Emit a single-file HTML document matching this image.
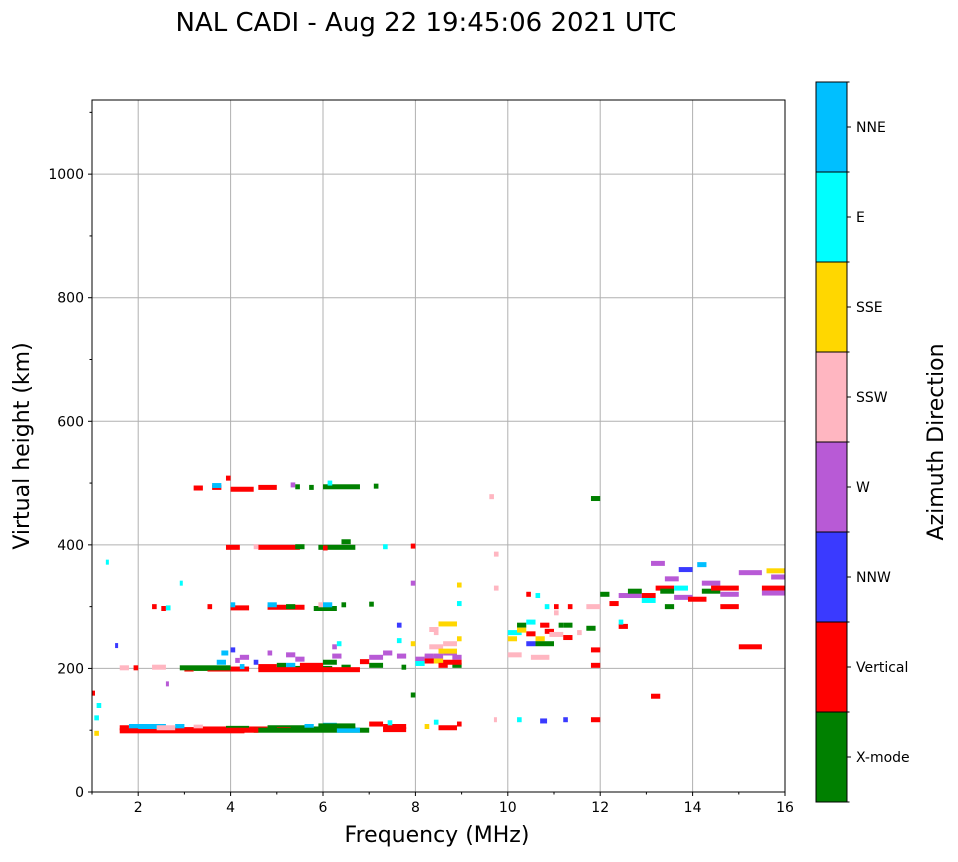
<!DOCTYPE html>
<html><head><meta charset="utf-8"><style>
body{margin:0;background:#fff;font-family:"Liberation Sans","DejaVu Sans",sans-serif;}
svg text{font-family:"DejaVu Sans","Liberation Sans",sans-serif;}
</style></head><body>
<svg id="c" width="958" height="857" xmlns="http://www.w3.org/2000/svg">
<text x="426" y="31" font-size="26" text-anchor="middle">NAL CADI - Aug 22 19:45:06 2021 UTC</text>
<g id="grid"></g><g id="marks"></g><g id="axes"></g><g id="cbar"></g>
<text x="437" y="842" font-size="22" text-anchor="middle">Frequency (MHz)</text>
<text transform="translate(29,446) rotate(-90)" font-size="22" text-anchor="middle">Virtual height (km)</text>
<text transform="translate(943,442) rotate(-90)" font-size="22" text-anchor="middle">Azimuth Direction</text>
</svg>
<script>
const dirLabels=["X-mode","Vertical","NNW","W","SSW","SSE","E","NNE"];
const dirColors=["#008000","#ff0000","#3a3aff","#b85ad6","#ffb6c1","#ffd700","#00ffff","#00bfff"];
const xTicks=[2,4,6,8,10,12,14,16];
const yTicks=[0,200,400,600,800,1000];
// echoes: start freq, end freq, height, direction index
const fStart=[1.6,1.8,2.2,2.6,2.8,3.2,3.4,3.9,4.4,4.8,5.0,5.6,5.8,6.0,6.3,7.0,7.3,7.4,8.2,8.4,8.5,8.9,9.7,10.2,10.7,11.2,11.8,1.05,1.05,1.0,1.1,
1.6,1.9,2.3,3.0,3.2,3.5,3.8,4.0,4.1,4.5,4.2,4.6,5.0,4.8,5.2,5.4,5.4,5.8,6.2,6.2,6.3,6.4,6.8,7.0,7.0,7.3,7.6,7.6,7.6,7.7,7.9,
8.0,8.0,8.2,8.2,8.2,8.4,8.4,8.5,8.3,8.3,8.5,8.6,8.8,8.8,8.9,8.9,8.9,8.4,
10.0,10.0,10.2,10.4,10.4,10.2,10.0,10.5,10.4,10.6,10.6,10.7,10.6,10.4,10.8,11.0,10.9,10.8,11.1,11.0,11.2,11.2,11.3,11.5,11.7,11.7,
12.0,12.2,12.4,12.4,12.4,12.6,12.9,12.9,13.2,13.3,13.4,13.6,13.6,13.1,13.9,13.7,14.1,14.2,14.2,14.4,14.6,15.0,14.6,15.5,15.5,15.6,15.7,13.4,15.0,13.1,11.8,11.8,11.8,9.6,9.7,9.7,7.9,7.9,7.9,
2.3,2.5,2.6,3.5,4.0,4.0,4.8,4.8,5.2,5.8,6.0,6.4,7.0,5.9,
3.9,4.6,5.4,5.9,6.4,6.0,4.5,7.3,
3.2,3.6,3.6,4.0,4.6,5.3,5.4,5.7,6.0,3.9,6.1,7.1,
1.3,2.6,2.9,1.5,
1.6,2.0,2.4,4.5,3.8,6.3,5.9,7.3,
2.9,4.6,5.5,3.7,5.2,4.2,6.0,8.6,8.6,8.5];
const fEnd=[1.8,2.2,2.6,3.3,3.0,3.4,3.9,4.4,4.8,5.6,5.3,5.8,6.7,6.3,6.5,7.3,7.8,7.5,8.3,8.5,8.9,9.0,9.75,10.3,10.85,11.3,12.0,1.15,1.15,1.05,1.2,
1.8,2.0,2.6,3.2,3.5,4.4,3.95,4.1,4.2,4.6,4.3,5.0,5.2,4.9,5.4,5.6,5.6,6.2,6.4,6.3,6.4,6.6,7.0,7.3,7.3,7.5,7.7,7.8,7.7,7.8,8.0,
8.2,8.2,8.4,8.4,8.4,8.6,8.6,8.7,8.6,8.5,8.9,8.9,9.0,9.0,9.0,9.0,9.0,8.5,
10.3,10.2,10.4,10.6,10.6,10.4,10.3,10.9,10.6,10.8,11.0,10.9,10.7,10.5,11.0,11.1,11.2,10.9,11.2,11.1,11.4,11.4,11.4,11.6,11.9,12.0,
12.2,12.4,12.6,12.5,12.9,12.9,13.2,13.2,13.6,13.6,13.7,13.9,14.0,13.4,14.3,14.0,14.3,14.6,14.6,15.0,15.0,15.5,15.0,16.0,16.0,16.0,16.0,13.6,15.5,13.3,12.0,12.0,12.0,9.7,9.8,9.8,8.0,8.0,8.0,
2.4,2.6,2.7,3.6,4.4,4.1,5.6,5.0,5.4,6.3,6.2,6.5,7.1,6.0,
4.2,5.5,5.6,6.7,6.6,6.1,4.6,7.4,
3.4,3.8,3.8,4.5,5.0,5.4,5.5,5.8,6.8,4.0,6.2,7.2,
1.35,2.65,2.95,1.55,
4.3,2.6,2.8,7.0,4.6,6.8,6.7,7.8,
4.0,6.8,6.0,3.9,5.4,4.4,6.3,9.0,8.9,8.9];
const heights=[104,106,102,101,106,105,102,103,102,104,101,106,102,108,104,110,106,112,106,113,104,110,117,117,115,117,117,120,95,160,140,
201,201,202,199,200,199,225,230,213,210,203,203,205,225,205,215,200,200,220,235,240,202,211,218,205,225,270,220,245,202,240,
215,208,218,220,212,220,212,205,235,263,272,240,218,205,248,335,305,258,
258,248,270,256,275,262,222,218,240,248,240,270,318,320,260,300,255,300,270,290,250,270,300,258,265,300,
320,305,268,275,318,325,318,310,330,325,345,330,315,370,312,360,368,325,338,330,320,355,300,330,322,358,348,300,235,155,205,230,475,478,385,330,398,157,338,
300,297,298,300,298,303,299,303,300,297,303,303,304,303,
396,396,397,396,405,395,397,397,
492,493,496,490,493,497,494,493,494,508,500,495,
372,175,338,237,
99,106,104,100,100,100,107,101,
201,198,205,210,222,218,210,210,225,228];
const dirs=[1,7,1,1,7,4,1,0,1,0,1,7,0,7,1,1,1,6,5,6,1,1,4,6,2,2,1,6,5,1,6,
4,1,4,1,0,1,7,2,3,2,7,1,0,3,7,3,0,0,3,3,6,0,1,3,0,3,2,3,6,0,5,
3,6,5,3,1,3,5,1,4,4,5,4,3,0,5,5,6,4,
6,5,0,1,6,5,4,4,2,5,0,1,6,1,1,1,4,6,0,4,1,0,1,4,0,4,
0,1,1,6,3,0,1,6,1,0,3,6,3,3,1,2,7,0,3,1,3,3,1,1,3,5,3,0,1,1,1,1,0,4,4,4,1,0,3,
1,1,6,1,1,7,1,7,0,0,7,0,0,4,
1,1,0,0,0,1,4,6,
1,1,7,1,1,3,0,0,0,1,6,0,
6,3,6,2,
1,7,4,0,1,7,0,1,
0,1,1,7,3,3,0,1,3,5];

const NS="http://www.w3.org/2000/svg";
const L=92,R=785,T=100,B=792,F0=1,F1=16,H1=1120;
const xs=f=>L+(f-F0)/(F1-F0)*(R-L);
const ys=h=>B-h/H1*(B-T);
function mk(tag,attrs,parent){const e=document.createElementNS(NS,tag);for(const k in attrs)e.setAttribute(k,attrs[k]);parent.appendChild(e);return e;}
const grid=document.getElementById('grid'),marks=document.getElementById('marks'),axes=document.getElementById('axes'),cbar=document.getElementById('cbar');
xTicks.forEach(t=>{const e=mk('line',{x1:xs(t),x2:xs(t),y1:T,y2:B,stroke:'#b0b0b0','stroke-width':1},grid);

});
yTicks.forEach(t=>{const e=mk('line',{x1:L,x2:R,y1:ys(t),y2:ys(t),stroke:'#b0b0b0','stroke-width':1},grid);

});
for(let i=0;i<fStart.length;i++){
 const x0=xs(fStart[i]),x1=xs(fEnd[i]);
 const r=mk('rect',{x:x0,y:ys(heights[i])-2.5,width:Math.max(3,x1-x0),height:5,fill:dirColors[dirs[i]]},marks);
 
 
}
const fr=mk('rect',{x:L,y:T,width:R-L,height:B-T,fill:'none',stroke:'#000','stroke-width':1},axes);


for(let f=1;f<=16;f++){mk('line',{x1:xs(f),x2:xs(f),y1:B,y2:B+(f%2?2.5:4),stroke:'#000'},axes);}
for(let h=0;h<=1100;h+=100){mk('line',{x1:L,x2:L-(h%200?2.5:4),y1:ys(h),y2:ys(h),stroke:'#000'},axes);}
xTicks.forEach(t=>{const e=mk('text',{x:xs(t),y:B+20,'font-size':14,'text-anchor':'middle'},axes);e.textContent=t;

});
yTicks.forEach(t=>{const e=mk('text',{x:L-8,y:ys(t)+5,'font-size':14,'text-anchor':'end'},axes);e.textContent=t;

});
const CB={x:816,w:31,top:82,bot:802};const seg=(CB.bot-CB.top)/dirLabels.length;
dirLabels.forEach((lab,i)=>{
 const y0=CB.bot-(i+1)*seg;
 const r=mk('rect',{x:CB.x,y:y0,width:CB.w,height:seg+0.5,fill:dirColors[i]},cbar);
 
 
 mk('line',{x1:CB.x+CB.w,x2:CB.x+CB.w+4,y1:y0+seg/2,y2:y0+seg/2,stroke:'#000'},cbar);
 const t=mk('text',{x:CB.x+CB.w+9,y:y0+seg/2+5,'font-size':14},cbar);t.textContent=lab;
 
 
});
for(let i=0;i<=dirLabels.length;i++){const y=CB.top+i*seg;mk('line',{x1:CB.x,x2:CB.x+CB.w+2.5,y1:y,y2:y,stroke:'#000'},cbar);}
const cf=mk('rect',{x:CB.x,y:CB.top,width:CB.w,height:CB.bot-CB.top,fill:'none',stroke:'#000'},cbar);


</script>
</body></html>
